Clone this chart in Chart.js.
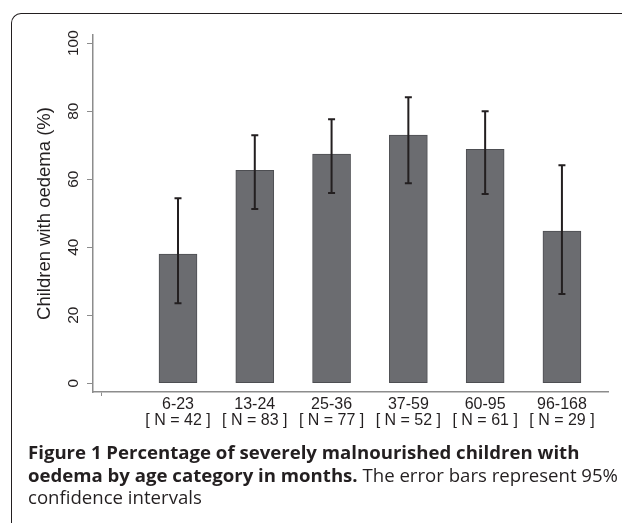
<!DOCTYPE html>
<html lang="en">
<head>
    <meta charset="UTF-8">
    <title>Oedema by age category</title>
    <script src="https://cdn.jsdelivr.net/npm/chart.js"></script>
    <style>
        body {
            margin: 0;
            background-color: #ffffff;
            width: 622px;
            height: 523px;
            overflow: hidden;
            position: relative;
        }
        #frame {
            position: absolute;
            left: 11px;
            top: 13px;
            width: 700px;
            height: 600px;
            border-top: 1.5px solid #231f20;
            border-left: 1.5px solid #231f20;
            border-top-left-radius: 10px;
        }
        #chart {
            position: absolute;
            left: 0;
            top: 0;
        }
        #caption {
            position: absolute;
            left: 28px;
            top: 441px;
            font-family: "Open Sans", sans-serif;
            font-size: 18.5px;
            line-height: 22.5px;
            color: #231f20;
            white-space: nowrap;
            transform-origin: 0 0;
        }
        #caption b {
            font-weight: 700;
        }
    </style>
</head>
<body>

    <div id="frame"></div>
    <canvas id="chart" width="622" height="440"></canvas>

    <div id="caption"><span id="capLine"><b>Figure 1 Percentage of severely malnourished children with</b></span><br><span id="capLine2"><b>oedema by age category in months.</b> The error bars represent 95%</span><br>confidence intervals</div>

    <script>
        // values
        const ageGroups = ['6-23', '13-24', '25-36', '37-59', '60-95', '96-168'];
        const sampleSizes = [42, 83, 77, 52, 61, 29];
        const pctOedema = [38.0, 62.6, 67.4, 73.0, 68.8, 44.7];
        const ciLower = [23.5, 51.2, 55.9, 58.8, 55.6, 26.2];
        const ciUpper = [54.4, 72.9, 77.6, 84.1, 80.0, 64.1];
        const xPositions = [1, 2, 3, 4, 5, 6];
        const yTicks = [0, 20, 40, 60, 80, 100];

        const axisGrey = '#8c8c8c';
        const textColor = '#231f20';

        // draws the 95% CI whiskers through the chart scales
        const errorBars = {
            id: 'errorBars',
            afterDatasetsDraw(chart) {
                const ctx = chart.ctx;
                const xs = chart.scales.x, ys = chart.scales.y;
                ctx.save();
                ctx.strokeStyle = '#231f20';
                ctx.lineWidth = 2;
                xPositions.forEach((xv, i) => {
                    const x = xs.getPixelForValue(xv);
                    const top = ys.getPixelForValue(ciUpper[i]);
                    const bot = ys.getPixelForValue(ciLower[i]);
                    ctx.beginPath();
                    ctx.moveTo(x, top);
                    ctx.lineTo(x, bot);
                    ctx.moveTo(x - 3.5, top);
                    ctx.lineTo(x + 3.5, top);
                    ctx.moveTo(x - 3.5, bot);
                    ctx.lineTo(x + 3.5, bot);
                    ctx.stroke();
                });
                ctx.restore();
            }
        };

        new Chart(document.getElementById('chart'), {
            type: 'bar',
            data: {
                datasets: [{
                    data: xPositions.map((x, i) => ({ x: x, y: pctOedema[i] })),
                    backgroundColor: '#6b6c70',
                    borderColor: '#4d4e52',
                    borderWidth: 1,
                    borderSkipped: false,
                    barThickness: 38
                }]
            },
            options: {
                responsive: false,
                animation: false,
                events: [],
                layout: { padding: { top: 35, right: 14, left: 0, bottom: 0 } },
                plugins: {
                    legend: { display: false },
                    tooltip: { enabled: false }
                },
                scales: {
                    x: {
                        type: 'linear',
                        offset: false,
                        min: -0.107,
                        max: 6.6,
                        afterBuildTicks: (scale) => {
                            scale.ticks = [0].concat(xPositions).map(v => ({ value: v }));
                        },
                        afterFit: (scale) => { scale.height = 48; },
                        border: { color: axisGrey, width: 1.5 },
                        grid: {
                            drawOnChartArea: false,
                            offset: false,
                            tickLength: 4,
                            color: (c) => c.tick && c.tick.value === 0 ? axisGrey : 'rgba(0,0,0,0)'
                        },
                        ticks: {
                            autoSkip: false,
                            maxRotation: 0,
                            padding: 1,
                            color: textColor,
                            font: { family: 'Liberation Sans', size: 16, lineHeight: 1 },
                            callback: (v) => v === 0 ? '' : [ageGroups[v - 1], '[ N = ' + sampleSizes[v - 1] + ' ]']
                        }
                    },
                    y: {
                        min: -2.6,
                        max: 102.4,
                        afterBuildTicks: (scale) => {
                            scale.ticks = yTicks.map(v => ({ value: v }));
                        },
                        afterFit: (scale) => { scale.width = 93; },
                        border: { color: axisGrey, width: 1.5 },
                        grid: {
                            drawOnChartArea: false,
                            tickLength: 6,
                            color: axisGrey
                        },
                        ticks: {
                            minRotation: 90,
                            maxRotation: 90,
                            crossAlign: 'center',
                            padding: 0,
                            color: textColor,
                            font: { family: 'Liberation Sans', size: 15.5 }
                        },
                        title: {
                            display: true,
                            text: 'Children with oedema (%)',
                            color: textColor,
                            font: { family: 'Liberation Sans', size: 18.5 },
                            padding: { top: 34, bottom: 0 }
                        }
                    }
                }
            },
            plugins: [errorBars]
        });

        // squeeze the caption to the width of the printed one
        const cap = document.getElementById('caption');
        const w = document.getElementById('capLine2').getBoundingClientRect().width;
        cap.style.transform = 'scaleX(' + (590 / w) + ')';
    </script>

</body>
</html>
